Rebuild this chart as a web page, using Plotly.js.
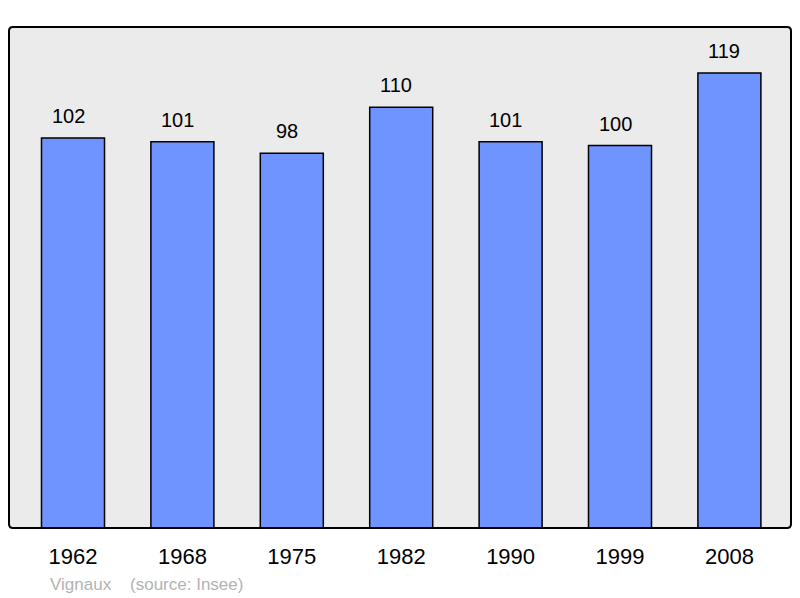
<!DOCTYPE html>
<html>
<head>
<meta charset="utf-8">
<script src="https://cdn.plot.ly/plotly-3.0.1.min.js"></script>
<style>html,body{margin:0;padding:0;background:#fff;}#chart{width:800px;height:598px;}</style>
</head>
<body>
<div id="chart"></div>
<script>
var years = ["1962", "1968", "1975", "1982", "1990", "1999", "2008"];
var population = [102, 101, 98, 110, 101, 100, 119];
var sourceText = "Vignaux \u00a0\u00a0\u00a0(source: Insee)";

var annotations = years.map(function (y, i) {
  return {
    x: i, y: population[i], xref: "x", yref: "y",
    text: String(population[i]), showarrow: false,
    xanchor: "center", yanchor: "bottom", yshift: 9, xshift: -5,
    font: {family: "Liberation Sans, Arial, sans-serif", size: 20, color: "#000"}
  };
});
annotations.push({
  xref: "paper", yref: "paper", x: 0.0495, y: -0.112, xanchor: "left", yanchor: "middle",
  text: sourceText, showarrow: false,
  font: {family: "Liberation Sans, Arial, sans-serif", size: 17, color: "#b3b3b3"}
});

var rx = 4 / 782, ry = 4 / 501;
var path = "M " + rx + ",0 L " + (1 - rx) + ",0 Q 1,0 1," + ry +
  " L 1," + (1 - ry) + " Q 1,1 " + (1 - rx) + ",1 L " + rx + ",1 Q 0,1 0," + (1 - ry) +
  " L 0," + ry + " Q 0,0 " + rx + ",0 Z";

var trace = {
  type: "bar", x: years, y: population, width: 0.576,
  marker: {color: "#7094ff", line: {color: "#000", width: 1.5}},
  hoverinfo: "x+y"
};

var layout = {
  width: 800, height: 598,
  margin: {l: 9, r: 9, t: 27, b: 70, pad: 0},
  paper_bgcolor: "#ffffff", plot_bgcolor: "#ebebeb",
  showlegend: false,
  xaxis: {
    type: "category", range: [-0.585, 6.563], showgrid: false, zeroline: false, showline: false,
    ticks: "", ticklabelstandoff: 13,
    tickfont: {family: "Liberation Sans, Arial, sans-serif", size: 22, color: "#000"}
  },
  yaxis: {range: [0, 131], showgrid: false, zeroline: false, showticklabels: false, showline: false, ticks: ""},
  shapes: [{type: "path", xref: "paper", yref: "paper", path: path, line: {color: "#000", width: 2}, fillcolor: "rgba(0,0,0,0)", layer: "above"}],
  annotations: annotations
};

Plotly.newPlot("chart", [trace], layout, {displayModeBar: false, staticPlot: true});
</script>
</body>
</html>
